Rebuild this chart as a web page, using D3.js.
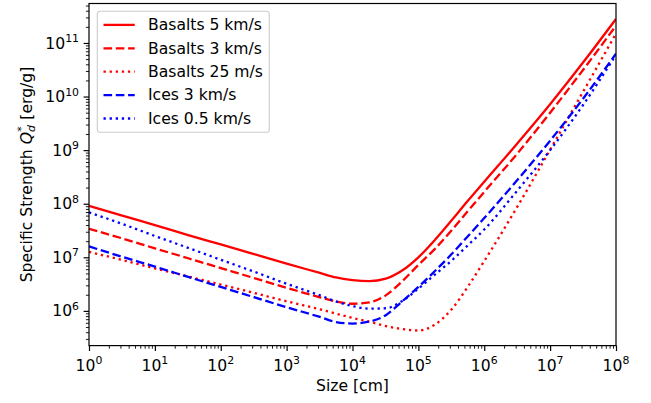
<!DOCTYPE html>
<html>
<head>
<meta charset="utf-8">
<script src="https://cdn.jsdelivr.net/npm/d3@7"></script>
<style>
    body { margin: 0; background: #fff; }
    svg { display: block; font-family: "DejaVu Sans", sans-serif; }
</style>
</head>
<body>
<div id="plot"></div>
<script>
// body size [cm], shared by every curve
const sizes = [1, 3.2, 10, 32, 100, 320, 1e3, 3.2e3, 5.6e3, 1e4, 1.8e4, 3.2e4, 5.6e4,
    1e5, 1.8e5, 3.2e5, 5.6e5, 1e6, 3.2e6, 1e7, 3.2e7, 1e8];

// Q*_d [erg/g]
const basalts5kms = [9.1e7, 6.0e7, 4.0e7, 2.6e7, 1.74e7, 1.15e7, 7.6e6, 5.1e6, 4.2e6, 3.76e6, 3.6e6, 4.0e6, 5.6e6,
    1.0e7, 2.14e7, 4.9e7, 1.12e8, 2.57e8, 1.35e9, 7.2e9, 4.4e10, 2.8e11];
const basalts3kms = [3.4e7, 2.25e7, 1.47e7, 9.6e6, 6.3e6, 4.1e6, 2.7e6, 1.79e6, 1.5e6, 1.36e6, 1.44e6, 1.95e6, 3.5e6,
    7.2e6, 1.45e7, 3.2e7, 7.2e7, 1.66e8, 8.7e8, 5.0e9, 3.2e10, 2.1e11];
const basalts25ms = [1.26e7, 8.9e6, 6.2e6, 4.4e6, 3.1e6, 2.16e6, 1.51e6, 1.07e6, 8.9e5, 7.4e5, 6.3e5, 5.2e5, 4.6e5,
    4.3e5, 5.6e5, 1.07e6, 2.8e6, 8.5e6, 8.9e7, 1.02e9, 1.26e10, 1.5e11];
const ices3kms = [1.6e7, 1.02e7, 6.7e6, 4.3e6, 2.8e6, 1.8e6, 1.17e6, 7.7e5, 6.2e5, 5.8e5, 6.3e5, 8.3e5, 1.48e6,
    2.8e6, 5.6e6, 1.15e7, 2.45e7, 5.4e7, 2.8e8, 1.5e9, 9.3e9, 6.3e10];
const ices05kms = [6.9e7, 4.2e7, 2.5e7, 1.5e7, 9.0e6, 5.4e6, 3.2e6, 1.95e6, 1.5e6, 1.23e6, 1.1e6, 1.12e6, 1.51e6,
    2.6e6, 4.8e6, 8.7e6, 1.66e7, 3.3e7, 1.78e8, 1.0e9, 7.1e9, 6.0e10];

const seriesNames = ["Basalts 5 km/s", "Basalts 3 km/s", "Basalts 25 m/s", "Ices 3 km/s", "Ices 0.5 km/s"];

const xTickExps = [0, 1, 2, 3, 4, 5, 6, 7, 8];
const yTickExps = [6, 7, 8, 9, 10, 11];
const xLimits = [1, 1e8];
const yLimits = [2.25e5, 5.45e11];

const width = 651;
const height = 403;
const box = {left: 89, right: 616, top: 3.5, bottom: 345.6};
const fontSize = 15.6;
const supSize = 10.9;
const lineWidth = 2.3;
const dashed = "8.6,3.7";
const dotted = "2.3,3.8";

const styles = [
    {color: "#ff0000", dash: null},
    {color: "#ff0000", dash: dashed},
    {color: "#ff0000", dash: dotted},
    {color: "#0000ff", dash: dashed},
    {color: "#0000ff", dash: dotted}
];

const series = [basalts5kms, basalts3kms, basalts25ms, ices3kms, ices05kms].map((values, i) => ({
    name: seriesNames[i],
    points: sizes.map((s, j) => [s, values[j]]),
    style: styles[i]
}));

const svg = d3.select("#plot")
    .append("svg")
    .attr("width", width)
    .attr("height", height);

const x = d3.scaleLog().domain(xLimits).range([box.left, box.right]);
const y = d3.scaleLog().domain(yLimits).range([box.bottom, box.top]);

function minorTicks(lo, hi) {
    const out = [];
    for (let e = Math.floor(Math.log10(lo)); e <= Math.ceil(Math.log10(hi)); e++) {
        for (let k = 2; k <= 9; k++) {
            const v = k * Math.pow(10, e);
            if (v >= lo && v <= hi) out.push(v);
        }
    }
    return out;
}

function powerLabel(sel, exp) {
    sel.append("tspan").text("10");
    sel.append("tspan")
        .attr("font-size", supSize)
        .attr("dy", -6.6)
        .text(exp);
}

function drawAxes() {
    const xMajor = xTickExps.map(e => Math.pow(10, e));
    const yMajor = yTickExps.map(e => Math.pow(10, e));

    // x ticks
    svg.append("g")
        .attr("transform", "translate(0," + box.bottom + ")")
        .call(d3.axisBottom(x).tickValues(xMajor).tickSize(5.4).tickFormat(""))
        .call(g => g.select(".domain").remove())
        .call(g => g.selectAll("line").attr("stroke", "#000").attr("stroke-width", 1.2));
    svg.append("g")
        .attr("transform", "translate(0," + box.bottom + ")")
        .call(d3.axisBottom(x).tickValues(minorTicks(xLimits[0], xLimits[1])).tickSize(3.1).tickFormat(""))
        .call(g => g.select(".domain").remove())
        .call(g => g.selectAll("line").attr("stroke", "#000").attr("stroke-width", 0.9));

    // y ticks
    svg.append("g")
        .attr("transform", "translate(" + box.left + ",0)")
        .call(d3.axisLeft(y).tickValues(yMajor).tickSize(5.4).tickFormat(""))
        .call(g => g.select(".domain").remove())
        .call(g => g.selectAll("line").attr("stroke", "#000").attr("stroke-width", 1.2));
    svg.append("g")
        .attr("transform", "translate(" + box.left + ",0)")
        .call(d3.axisLeft(y).tickValues(minorTicks(yLimits[0], yLimits[1])).tickSize(3.1).tickFormat(""))
        .call(g => g.select(".domain").remove())
        .call(g => g.selectAll("line").attr("stroke", "#000").attr("stroke-width", 0.9));

    // tick labels
    svg.append("g")
        .selectAll("text")
        .data(xTickExps)
        .enter()
        .append("text")
        .attr("x", d => x(Math.pow(10, d)))
        .attr("y", 370.5)
        .attr("text-anchor", "middle")
        .attr("font-size", fontSize)
        .attr("fill", "#000")
        .each(function (d) { powerLabel(d3.select(this), d); });

    svg.append("g")
        .selectAll("text")
        .data(yTickExps)
        .enter()
        .append("text")
        .attr("x", 79)
        .attr("y", d => y(Math.pow(10, d)) + 5.6)
        .attr("text-anchor", "end")
        .attr("font-size", fontSize)
        .attr("fill", "#000")
        .each(function (d) { powerLabel(d3.select(this), d); });

    // axis titles
    svg.append("text")
        .attr("x", (box.left + box.right) / 2)
        .attr("y", 390.5)
        .attr("text-anchor", "middle")
        .attr("font-size", fontSize)
        .text("Size [cm]");

    const yTitle = svg.append("text")
        .attr("transform", "translate(32," + (box.top + box.bottom) / 2 + ") rotate(-90)")
        .attr("text-anchor", "middle")
        .attr("font-size", fontSize);
    yTitle.append("tspan").text("Specific Strength ");
    yTitle.append("tspan").attr("font-style", "italic").text("Q");
    yTitle.append("tspan").attr("font-style", "italic").attr("font-size", supSize).attr("dy", 3.4).text("d");
    yTitle.append("tspan").attr("font-size", supSize).attr("dx", -6.6).attr("dy", -10.4).text("*");
    yTitle.append("tspan").attr("dx", 1.6).attr("dy", 7).text(" [erg/g]");
}

function drawCurves() {
    svg.append("defs")
        .append("clipPath")
        .attr("id", "clip")
        .append("rect")
        .attr("x", box.left)
        .attr("y", box.top)
        .attr("width", box.right - box.left)
        .attr("height", box.bottom - box.top);

    const line = d3.line()
        .x(d => x(d[0]))
        .y(d => y(d[1]))
        .curve(d3.curveMonotoneX);

    svg.append("g")
        .attr("clip-path", "url(#clip)")
        .selectAll("path")
        .data(series)
        .enter()
        .append("path")
        .attr("fill", "none")
        .attr("stroke", d => d.style.color)
        .attr("stroke-width", lineWidth)
        .attr("stroke-dasharray", d => d.style.dash)
        .attr("d", d => line(d.points));
}

function drawLegend() {
    const legendX = 97.3;
    const legendY = 11.3;
    const rowH = 23.4;

    const g = svg.append("g");
    g.append("rect")
        .attr("x", legendX)
        .attr("y", legendY)
        .attr("width", 172)
        .attr("height", 121)
        .attr("rx", 3.1)
        .attr("fill", "#fff")
        .attr("fill-opacity", 0.8)
        .attr("stroke", "#cccccc")
        .attr("stroke-width", 1.1);

    const rows = g.selectAll("g.row")
        .data(series)
        .enter()
        .append("g")
        .attr("class", "row")
        .attr("transform", (d, i) => "translate(0," + (legendY + 13.6 + i * rowH) + ")");

    rows.append("line")
        .attr("x1", legendX + 6.2)
        .attr("x2", legendX + 6.2 + 31.2)
        .attr("stroke", d => d.style.color)
        .attr("stroke-width", lineWidth)
        .attr("stroke-dasharray", d => d.style.dash);

    rows.append("text")
        .attr("x", legendX + 50.7)
        .attr("y", 5.2)
        .attr("font-size", fontSize)
        .attr("fill", "#000")
        .text(d => d.name);
}

drawCurves();
drawAxes();

// axes frame
svg.append("rect")
    .attr("x", box.left)
    .attr("y", box.top)
    .attr("width", box.right - box.left)
    .attr("height", box.bottom - box.top)
    .attr("fill", "none")
    .attr("stroke", "#000")
    .attr("stroke-width", 1.2);

drawLegend();
</script>
</body>
</html>
